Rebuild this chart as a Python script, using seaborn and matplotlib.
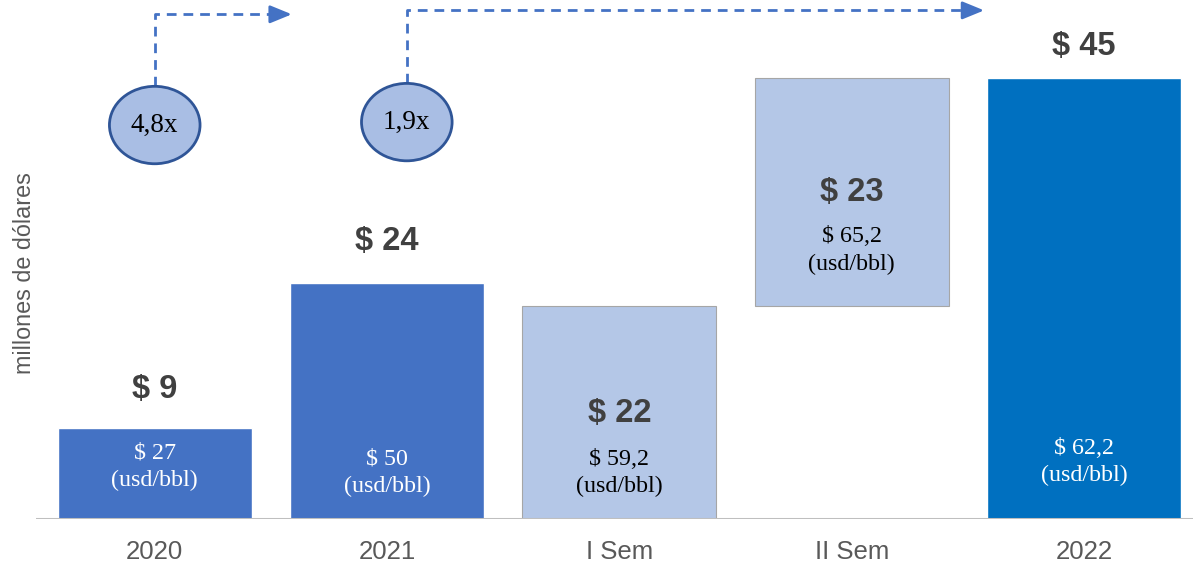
import pandas as pd
import seaborn as sns
import matplotlib.pyplot as plt
from matplotlib.patches import Ellipse

# datos (millones de dólares)
categorias = ["2020", "2021", "I Sem", "II Sem", "2022"]
valores = [9.3, 24.1, 21.7, 23.3, 45.0]
bases = [0, 0, 0, 21.7, 0]
etiquetas = ["$ 9", "$ 24", "$ 22", "$ 23", "$ 45"]
precios = ["$ 27", "$ 50", "$ 59,2", "$ 65,2", "$ 62,2"]
colores = ["#4472C4", "#4472C4", "#B4C7E7", "#B4C7E7", "#0070C0"]
multiplos = ["4,8x", "1,9x"]

sns.set_theme(style="white")
plt.rcParams["font.family"] = ["Liberation Sans", "DejaVu Sans"]

tabela = pd.DataFrame({"cat": categorias, "tope": [b + v for b, v in zip(bases, valores)]})

fig = plt.figure(figsize=(11.93, 5.70), dpi=100)
ax = fig.add_axes([0.03, 0.0895, 0.97, 0.9105])
sns.barplot(data=tabela, x="cat", y="tope", hue="cat", palette=colores,
            width=0.835, legend=False, ax=ax, saturation=1)

# barras flotantes (waterfall)
for i, p in enumerate(ax.patches):
    p.set_y(bases[i])
    p.set_height(valores[i])
    if colores[i] == "#B4C7E7":
        p.set_edgecolor("#A6A6A6")
        p.set_linewidth(0.8)

ax.set_xlim(-0.512, 4.469)
ax.set_ylim(0, 52.96)
ax.axhline(0, color="#BFBFBF", lw=2.2, zorder=5)

for s in ax.spines.values():
    s.set_visible(False)
ax.set_yticks([])
ax.set_xlabel("")
ax.set_ylabel("millones de dólares", fontsize=16.8, color="#595959")
ax.yaxis.set_label_coords(0.0, 0.474)
ax.tick_params(axis="x", length=0, pad=15, labelsize=18.5, labelcolor="#595959")

# etiquetas de valor
pos_etq = [13.2, 28.3, 10.8, 33.3, 48.2]
for i, t in enumerate(etiquetas):
    ax.text(i, pos_etq[i], t, ha="center", va="center", fontsize=23.5,
            fontweight="bold", color="#404040")

# precio del barril
pos_precio = [5.3, 4.7, 4.7, 27.4, 5.8]
for i, t in enumerate(precios):
    c = "white" if colores[i] != "#B4C7E7" else "black"
    ax.text(i, pos_precio[i], t + "\n(usd/bbl)", ha="center", va="center",
            fontsize=17.3, color=c, family="Liberation Serif", linespacing=1.4)

# multiplicadores con flechas
circ_x = [0, 1.085]
circ_y = [40.2, 40.5]
flecha_fin = [0.59, 3.57]
flecha_y = [51.5, 51.9]
for i, t in enumerate(multiplos):
    ax.add_patch(Ellipse((circ_x[i], circ_y[i]), 0.39, 7.9, facecolor="#A9BEE4",
                         edgecolor="#2F5597", lw=2, zorder=6))
    ax.text(circ_x[i], circ_y[i], t, ha="center", va="center", fontsize=19.5,
            family="Liberation Serif", color="black", zorder=7)
    # linea punteada en L
    ax.plot([circ_x[i], circ_x[i], flecha_fin[i] - 0.06],
            [circ_y[i] + 3.95, flecha_y[i], flecha_y[i]],
            color="#4472C4", lw=2, ls=(0, (3.5, 2.5)), clip_on=False)
    # punta de flecha solida
    ax.annotate("", xy=(flecha_fin[i], flecha_y[i]), xytext=(flecha_fin[i] - 0.07, flecha_y[i]),
                arrowprops=dict(arrowstyle="-|>,head_length=1.1,head_width=0.45",
                                color="#4472C4", lw=2, shrinkA=0, shrinkB=0),
                annotation_clip=False)

plt.savefig("out.png", dpi=100)
